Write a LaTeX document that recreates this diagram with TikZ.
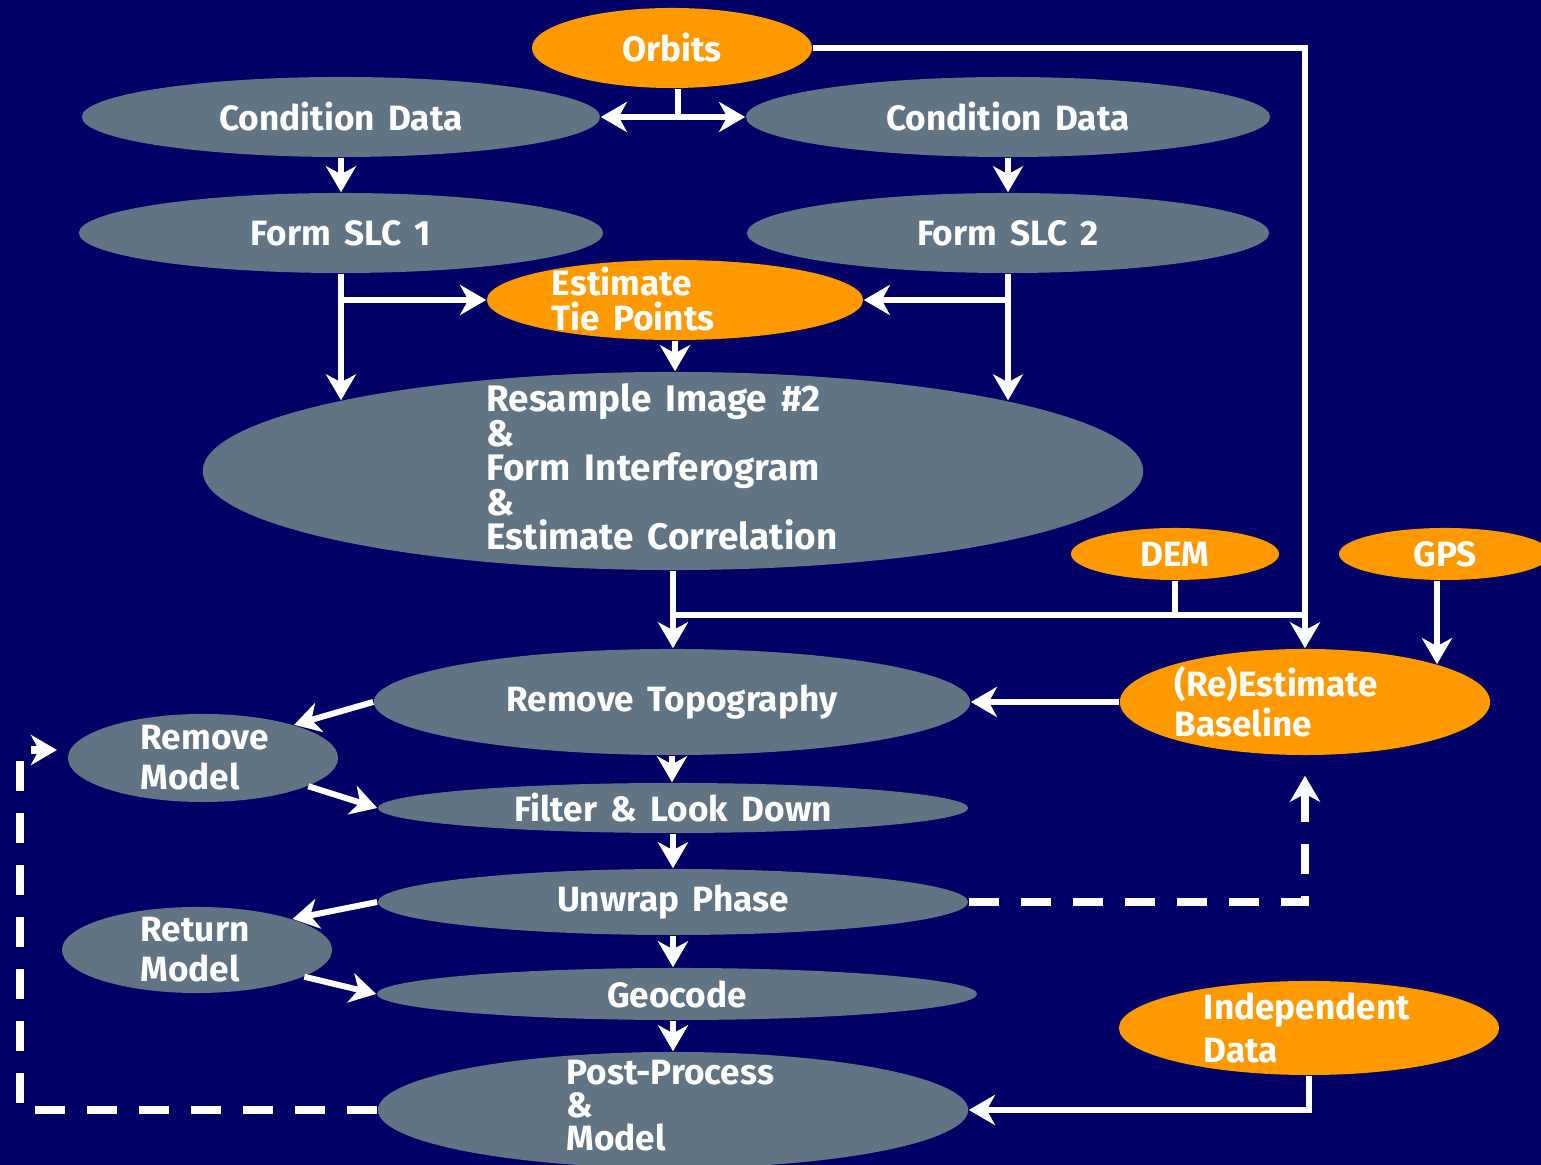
\documentclass[tikz,border=0pt]{standalone}
\usepackage{fontspec}
\setmainfont{Fira Sans}[WordSpace=1.6]
\usetikzlibrary{shapes.geometric,arrows.meta}

\definecolor{navy}{RGB}{0,0,102}
\definecolor{slate}{RGB}{96,116,131}
\definecolor{amber}{RGB}{255,153,0}

\tikzset{
    blob/.style={ellipse, inner sep=0pt, text=white,
        font=\bfseries\fontsize{10}{12}\selectfont},
    gray blob/.style={blob, fill=slate},
    orange blob/.style={blob, fill=amber},
    wh/.style 2 args={minimum width=#1cm, minimum height=#2cm},
    txt/.style={text=white, align=left, inner sep=0pt, anchor=west},
    wire/.style={draw=white, line width=0.06cm},
    arr/.style={wire, -{Stealth[length=0.26cm,width=0.30cm,inset=0.08cm]}},
    dasharr/.style={draw=white, line width=0.08cm,
        dash pattern=on 0.3cm off 0.22cm,
        -{Stealth[length=0.26cm,width=0.30cm,inset=0.08cm]}},
}

% bold text with a fixed line pitch, even when lines touch
\newcommand{\lead}[2]{\bfseries\fontsize{#1}{#2}\selectfont\lineskiplimit=-20pt}

\begin{document}
\begin{tikzpicture}[x=0.01cm, y=-0.01cm]
    \fill[navy] (0,0) rectangle (1541,1165);
    \useasboundingbox (0,0) rectangle (1541,1165);

    % inputs and the two image chains
    \node[orange blob, wh={2.80}{0.80}] (orbits) at (672,48) {Orbits};
    \node[gray blob, wh={5.18}{0.80}] (condL) at (341,117) {Condition Data};
    \node[gray blob, wh={5.24}{0.80}] (condR) at (1008,117) {Condition Data};
    \node[gray blob, wh={5.24}{0.80}] (slc1) at (341,233) {Form SLC 1};
    \node[gray blob, wh={5.22}{0.80}] (slc2) at (1008,233) {Form SLC 2};
    \node[orange blob, wh={3.76}{0.80}] (tie) at (675,300) {};
    \node[txt, font=\lead{10}{10.2}] (tie-text) at (551,299) {Estimate\\Tie Points};
    \node[gray blob, wh={9.40}{1.98}] (resample) at (673,471) {};
    \node[txt, font=\lead{10.5}{9.8}] (resample-text) at (486,467)
        {Resample Image \#2\\\&\\Form Interferogram\\\&\\Estimate Correlation};
    \node[orange blob, wh={2.08}{0.52}] (dem) at (1175,554) {DEM};
    \node[orange blob, wh={2.12}{0.52}] (gps) at (1445,554) {GPS};

    % processing column
    \node[gray blob, wh={5.96}{1.06}] (rtopo) at (672,702) {Remove Topography};
    \node[orange blob, wh={3.70}{1.06}] (baseline) at (1305,702) {};
    \node[txt, font=\lead{10}{11.4}] (baseline-text) at (1174,702) {(Re)Estimate\\Baseline};
    \node[gray blob, wh={2.70}{0.88}] (rmodel) at (203,758) {};
    \node[txt, font=\lead{10}{11.4}] (rmodel-text) at (140,758) {Remove\\Model};
    \node[gray blob, wh={5.90}{0.50}] (filter) at (673,808) {Filter \& Look Down};
    \node[gray blob, wh={5.90}{0.66}] (unwrap) at (673,902) {Unwrap Phase};
    \node[gray blob, wh={2.70}{0.86}] (retmodel) at (197,950) {};
    \node[txt, font=\lead{10}{11.4}] (retmodel-text) at (140,950) {Return\\Model};
    \node[gray blob, wh={6.00}{0.52}] (geocode) at (677,994) {Geocode};
    \node[orange blob, wh={3.80}{0.94}] (indep) at (1309,1028) {};
    \node[txt, font=\lead{10}{12.2}] (indep-text) at (1203,1028) {Independent\\Data};
    \node[gray blob, wh={5.90}{1.16}] (post) at (673,1110) {};
    \node[txt, font=\lead{10}{9.4}] (post-text) at (566,1106) {Post-Process\\\&\\Model};

    \coordinate (jn) at (1305,615);
    \coordinate (lp) at (20,750);
    \coordinate (lp-tip) at (57,750);

    % orbits feed both chains and the baseline
    \draw[wire] ([xshift=0.06cm]orbits.south) -- ([xshift=0.06cm]orbits.south |- condL.east) coordinate (ob);
    \draw[arr] (ob) -- (condL.east);
    \draw[arr] (ob) -- (condR.west);
    \draw[arr] (orbits.east) -| (baseline.north);

    \draw[arr] (condL.south) -- (condL.south |- slc1.north);
    \draw[arr] (condR.south) -- (condR.south |- slc2.north);

    \draw[arr] (slc1.south) -- (slc1.south |- resample.168);
    \draw[arr] (slc2.south) -- (slc2.south |- resample.12);
    \draw[arr] (slc1.south |- tie.west) -- (tie.west);
    \draw[arr] (slc2.south |- tie.east) -- (tie.east);
    \draw[arr] (tie.south) -- (tie.south |- resample.north);

    % interferogram and DEM towards the baseline
    \draw[arr] (resample.south) -- (resample.south |- rtopo.north);
    \draw[wire] (resample.south |- jn) -- (jn);
    \draw[wire] (dem.south) -- (dem.south |- jn);
    \draw[arr] ([xshift=-0.08cm]gps.south) -- ([xshift=-0.08cm]gps.south |- baseline.16);
    \draw[arr] (baseline.west) -- (rtopo.east);

    % down the column
    \draw[arr] (rtopo.west) -- (rmodel.20);
    \draw[arr] (rmodel.-15) -- (filter.west);
    \draw[arr] (rtopo.south) -- (rtopo.south |- filter.north);
    \draw[arr] (filter.south) -- (unwrap.north);
    \draw[arr] (unwrap.west) -- (retmodel.18);
    \draw[arr] (retmodel.-14) -- (geocode.west);
    \draw[arr] (unwrap.south) -- (unwrap.south |- geocode.north);
    \draw[arr] (geocode.south -| post.north) -- (post.north);
    \draw[arr] (indep.south) |- (post.east);

    % feedback loops
    \draw[dasharr] (unwrap.east) -| ([yshift=-0.2cm]baseline.south);
    \draw[dasharr] (post.west) -| (lp) -- (lp-tip);
\end{tikzpicture}
\end{document}
